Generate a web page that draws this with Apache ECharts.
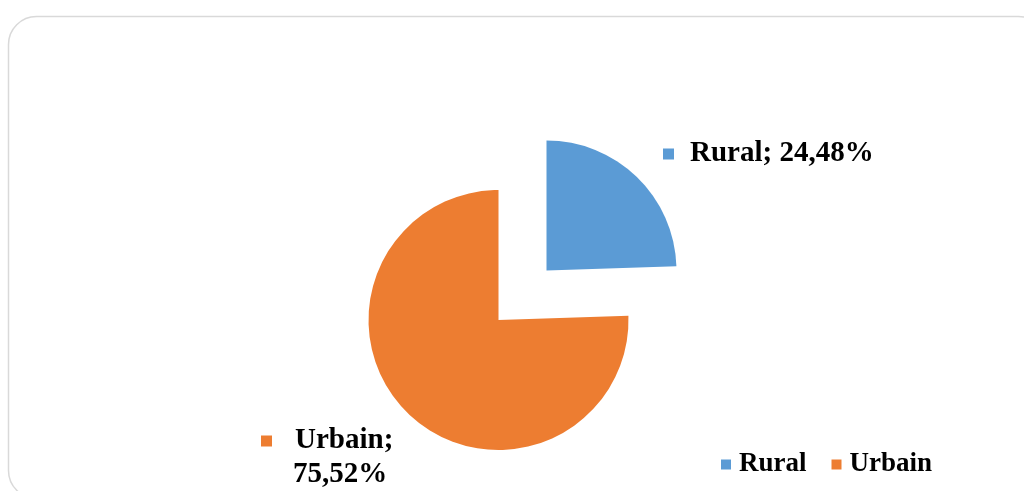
<!DOCTYPE html>
<html>
<head>
<meta charset="utf-8">
<style>
  html, body { margin: 0; padding: 0; background: #ffffff; }
  #chart { width: 1024px; height: 491px; }
</style>
<script src="https://cdn.jsdelivr.net/npm/echarts@6/dist/echarts.min.js"></script>
</head>
<body>
<div id="chart"></div>
<script>
// Population split by area type
const categories = ['Rural', 'Urbain'];
const shares = [24.48, 75.52];
const sliceColors = ['#5B9BD5', '#ED7D31'];

const FONT = '"Liberation Serif", "Times New Roman", serif';

function fmtPct(v) {
  return v.toFixed(2).replace('.', ',') + '%';
}

const chart = echarts.init(document.getElementById('chart'), null, { renderer: 'canvas' });

// Pie geometry; the Rural slice is pulled out along its mid-angle
const pieCenter = [498.5, 320];
const pieRadius = 130;
const explode = 69;
const total = shares.reduce((a, b) => a + b, 0);
const midAngle = (shares[0] / total) * Math.PI; // radians, clockwise from 12 o'clock
const explodedCenter = [
  pieCenter[0] + Math.sin(midAngle) * explode,
  pieCenter[1] - Math.cos(midAngle) * explode
];

const markerRich = (color) => ({ width: 11, height: 11, backgroundColor: color });
const labelText = { fontFamily: FONT, fontWeight: 'bold', fontSize: 29, color: '#000000', lineHeight: 34 };

const labelFormatter = (p) => {
  if (p.dataIndex === 0) {
    return '{m0|}{g|}{t|' + p.name + '; ' + fmtPct(p.value) + '}';
  }
  return '{m1|}{g2|}{t|' + p.name + ';}\n{p|}{t|' + fmtPct(p.value) + '}';
};

// One pie layer per slice: the other slice is present but invisible so angles stay right
function sliceLayer(visibleIndex, center) {
  return {
    type: 'pie',
    center: center,
    radius: pieRadius,
    startAngle: 90,
    clockwise: true,
    silent: true,
    emphasis: { disabled: true },
    labelLine: { show: false },
    label: {
      position: 'outside',
      formatter: labelFormatter,
      rich: {
        m0: markerRich(sliceColors[0]),
        m1: markerRich(sliceColors[1]),
        g: { width: 16 },
        g2: { width: 23 },
        p: { width: 32 },
        t: labelText
      }
    },
    labelLayout: (params) => {
      if (params.dataIndex === 0) {
        return { x: 663, y: 154, align: 'left', verticalAlign: 'middle' };
      }
      return { x: 261, y: 458, align: 'left', verticalAlign: 'middle' };
    },
    data: categories.map((name, i) => ({
      name: name,
      value: shares[i],
      itemStyle: { color: sliceColors[i], opacity: i === visibleIndex ? 1 : 0 },
      label: { show: i === visibleIndex }
    }))
  };
}

chart.setOption({
  animation: false,
  backgroundColor: '#ffffff',
  graphic: [{
    type: 'rect',
    shape: { x: 8.5, y: 16.5, width: 1038, height: 482, r: 28 },
    style: { fill: 'none', stroke: '#d9d9d9', lineWidth: 1.5 },
    silent: true
  }],
  legend: {
    data: categories.map((name, i) => ({ name: name, itemStyle: { color: sliceColors[i], opacity: 1 } })),
    left: 716,
    top: 446,
    itemWidth: 10,
    itemHeight: 10,
    itemGap: 25,
    icon: 'rect',
    selectedMode: false,
    textStyle: {
      fontFamily: FONT, fontWeight: 'bold', fontSize: 27, color: '#000000',
      padding: [0, 0, 0, 3]
    }
  },
  series: [
    sliceLayer(1, pieCenter),
    sliceLayer(0, explodedCenter)
  ]
});
</script>
</body>
</html>
